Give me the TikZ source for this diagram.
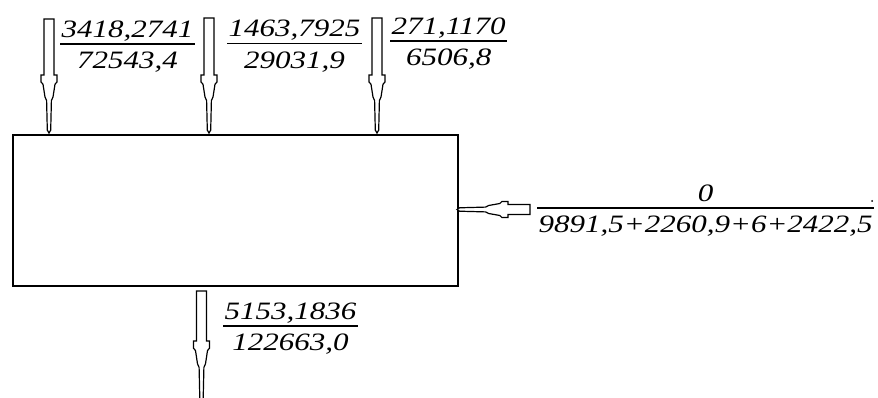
\documentclass[tikz,border=0pt]{standalone}
\usepackage{fontspec}
\setmainfont{Liberation Serif}
\newfontfamily\flowfont[FakeStretch=1.24]{Liberation Serif}
\usetikzlibrary{positioning}

\tikzset{
  unitbox/.style={draw, line width=1.6pt, anchor=north west, inner sep=0pt,
    minimum width=445pt, minimum height=151pt},
  flow/.style={draw, line width=1.2pt, fill=white, line join=miter},
  balance/.style={inner sep=0pt, font=\flowfont\itshape\fontsize{25}{30}\selectfont},
}
\setlength{\arrayrulewidth}{1.4pt}
\newcommand{\flowfrac}[2]{\begin{tabular}{@{\hspace{1.5pt}}c@{\hspace{1.5pt}}}#1\\[-3pt]\hline\rule{0pt}{24pt}#2\end{tabular}}
% hollow stream arrow: position, rotation, shaft length, tip length
\newcommand{\flowarrow}[4]{%
  \draw[flow, shift={(#1)}, rotate=#2]
    (-5,0) -- (5,0) -- (5,#3) -- (8,#3) -- (8,{#3+0.12*#4}) -- (6,{#3+0.16*#4})
    -- (4,{#3+0.38*#4}) -- (2.4,{#3+0.44*#4}) -- (1.7,{#3+0.95*#4}) -- (0,{#3+#4})
    -- (-1.7,{#3+0.95*#4}) -- (-2.4,{#3+0.44*#4}) -- (-4,{#3+0.38*#4}) -- (-6,{#3+0.16*#4})
    -- (-8,{#3+0.12*#4}) -- (-8,#3) -- (-5,#3) -- cycle;}

\begin{document}
\begin{tikzpicture}[x=1pt, y=-1pt]
  \useasboundingbox (0,0) rectangle (878,398);
  \node[unitbox] (unit) at (12,134) {};

  % stream arrows
  \coordinate (in1) at (49,19);
  \coordinate (in2) at (209,18);
  \coordinate (in3) at (377,18);
  \coordinate (in4) at (530,209.5);
  \coordinate (out1) at (201.5,291);
  \flowarrow{in1}{0}{56}{58}
  \flowarrow{in2}{0}{57}{58}
  \flowarrow{in3}{0}{57}{58}
  \flowarrow{in4}{-90}{22}{51}
  \flowarrow{out1}{0}{50}{60}

  % balances
  \node[balance, below right=-3pt and 11pt of in1] (b1) {\flowfrac{3418,2741}{72543,4}};
  \node[balance, below right=-2.5pt and 18pt of in2] (b2) {\flowfrac{1463,7925}{29031,9}};
  \node[balance, below right=-5pt and 13pt of in3] (b3) {\flowfrac{271,1170}{6506,8}};
  \node[balance, below right=-29.5pt and 7pt of in4] (b4) {\flowfrac{0}{9891,5+2260,9+6+2422,5}};
  \node[balance, below right=7pt and 21.5pt of out1] (b5) {\flowfrac{5153,1836}{122663,0}};
  \node[circle, fill, inner sep=0pt, minimum size=2pt] (dot) at (872,201) {};
\end{tikzpicture}
\end{document}
